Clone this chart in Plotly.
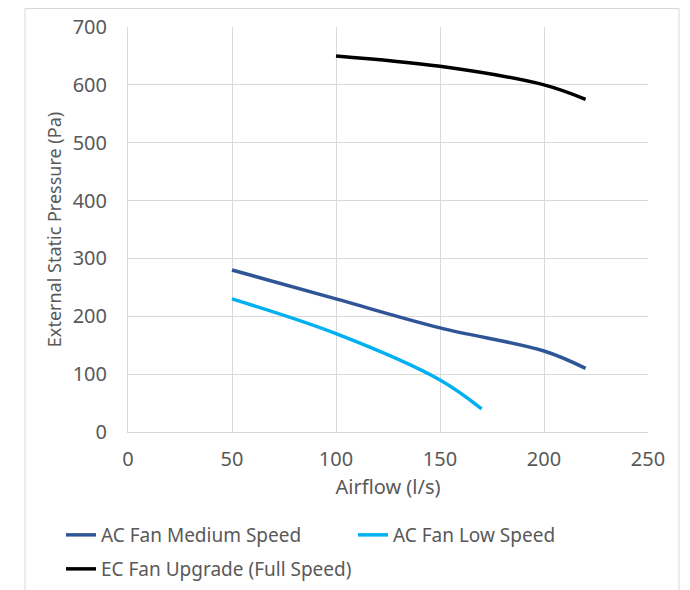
import plotly.graph_objects as go

x_medium = [50, 100, 150, 200, 220]
y_medium = [280, 230, 180, 140, 110]
x_low = [50, 100, 150, 170]
y_low = [230, 170, 90, 40]
x_ec = [100, 150, 200, 220]
y_ec = [650, 632, 600, 575]
names = ["AC Fan Medium Speed", "AC Fan Low Speed", "EC Fan Upgrade (Full Speed)"]
x_ticks = [0, 50, 100, 150, 200, 250]
y_ticks = [0, 100, 200, 300, 400, 500, 600, 700]

FONT = "Noto Sans"
GRAY = "#595959"
GRID = "#D9D9D9"

fig = go.Figure()
fig.add_trace(go.Scatter(x=x_medium, y=y_medium, mode="lines", name=names[0], showlegend=True,
                         line=dict(color="#2F5597", width=3.5, shape="spline"), legend="legend"))
fig.add_trace(go.Scatter(x=x_low, y=y_low, mode="lines", name=names[1], showlegend=True,
                         line=dict(color="#00B0F0", width=3.5, shape="spline"), legend="legend2"))
fig.add_trace(go.Scatter(x=x_ec, y=y_ec, mode="lines", name=names[2], showlegend=True,
                         line=dict(color="#000000", width=3.5, shape="spline"), legend="legend3"))

W, H = 682, 582
L, R, T, B = 120, 42, 19, 158
pw, ph = W - L - R, H - T - B

def px(p):
    return (p - L) / pw

def py(p):
    return (H - B - p) / ph

def cx(p):
    return p / W

def cy(p):
    return 1 - p / H

def leg(xp, yp):
    return dict(orientation="h", xref="container", yref="container", x=cx(xp), y=cy(yp),
                xanchor="left", yanchor="top", font=dict(size=19, color=GRAY),
                bgcolor="rgba(0,0,0,0)", visible=True)

fig.update_layout(
    width=W, height=H,
    showlegend=True,
    margin=dict(l=L, r=R, t=T, b=B, autoexpand=False),
    paper_bgcolor="white", plot_bgcolor="white",
    font=dict(family=FONT, color=GRAY, size=19),
    xaxis=dict(range=[0, 250], tickvals=x_ticks, showgrid=True, gridcolor=GRID, gridwidth=1,
               showline=True, linecolor=GRID, zeroline=False, ticks="", ticklabelstandoff=9,
               tickfont=dict(size=20, color=GRAY),
               title=dict(text="Airflow (l/s)", font=dict(size=20, color=GRAY), standoff=8)),
    yaxis=dict(range=[0, 700], tickvals=y_ticks, showgrid=True, gridcolor=GRID, gridwidth=1,
               showline=True, linecolor=GRID, zeroline=False, ticks="", ticklabelstandoff=16,
               tickfont=dict(size=20, color=GRAY),
               title=dict(text="External Static Pressure (Pa)", font=dict(size=18, color=GRAY), standoff=6)),
    legend=leg(53, 508),
    legend2=leg(345, 508),
    legend3=leg(53, 542),
    shapes=[dict(type="rect", xref="paper", yref="paper",
                 x0=px(17), x1=px(671), y0=py(590), y1=py(0.5),
                 line=dict(color=GRID, width=1), fillcolor="rgba(0,0,0,0)", layer="below")],
)

fig.write_html("out.html")
